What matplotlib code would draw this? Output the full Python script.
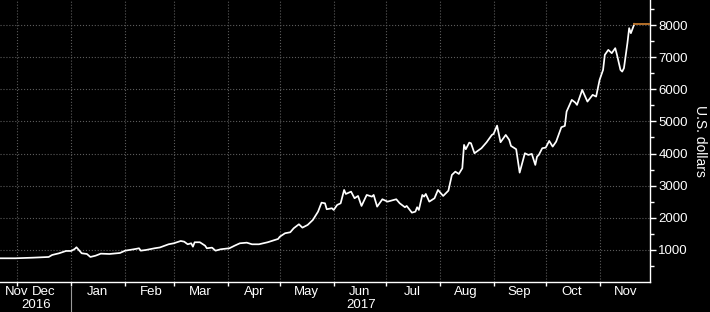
import matplotlib
matplotlib.use("Agg")
import matplotlib.pyplot as plt
import matplotlib.transforms as mtransforms
import pandas as pd

# bitcoin price
dates = [
    "2016-11-21", "2016-11-30", "2016-12-10", "2016-12-19", "2016-12-21", "2016-12-25", "2016-12-29",
    "2017-01-01", "2017-01-03", "2017-01-04", "2017-01-07", "2017-01-10", "2017-01-12", "2017-01-15",
    "2017-01-18", "2017-01-23", "2017-01-29", "2017-02-01", "2017-02-07", "2017-02-09", "2017-02-10",
    "2017-02-13", "2017-02-18", "2017-02-21", "2017-02-26", "2017-03-01", "2017-03-05", "2017-03-07",
    "2017-03-09", "2017-03-11", "2017-03-12", "2017-03-13", "2017-03-16", "2017-03-19", "2017-03-20",
    "2017-03-23", "2017-03-25", "2017-03-28", "2017-04-02", "2017-04-05", "2017-04-08", "2017-04-12",
    "2017-04-15", "2017-04-19", "2017-04-24", "2017-04-28", "2017-04-30", "2017-05-01", "2017-05-04",
    "2017-05-07", "2017-05-09", "2017-05-12", "2017-05-14", "2017-05-17", "2017-05-20", "2017-05-23",
    "2017-05-25", "2017-05-27", "2017-05-28", "2017-05-31", "2017-06-01", "2017-06-03", "2017-06-05",
    "2017-06-07", "2017-06-08", "2017-06-11", "2017-06-13", "2017-06-15", "2017-06-17", "2017-06-20",
    "2017-06-23", "2017-06-24", "2017-06-26", "2017-06-29", "2017-07-02", "2017-07-07", "2017-07-09",
    "2017-07-12", "2017-07-13", "2017-07-16", "2017-07-18", "2017-07-19", "2017-07-20", "2017-07-22",
    "2017-07-23", "2017-07-24", "2017-07-26", "2017-07-29", "2017-07-31", "2017-08-03", "2017-08-06",
    "2017-08-08", "2017-08-10", "2017-08-12", "2017-08-14", "2017-08-15", "2017-08-16", "2017-08-18",
    "2017-08-19", "2017-08-21", "2017-08-25", "2017-08-28", "2017-08-31", "2017-09-01", "2017-09-03",
    "2017-09-05", "2017-09-08", "2017-09-10", "2017-09-11", "2017-09-14", "2017-09-16", "2017-09-19",
    "2017-09-21", "2017-09-23", "2017-09-25", "2017-09-26", "2017-09-27", "2017-09-29", "2017-10-01",
    "2017-10-03", "2017-10-05", "2017-10-07", "2017-10-10", "2017-10-12", "2017-10-13", "2017-10-16",
    "2017-10-18", "2017-10-19", "2017-10-22", "2017-10-25", "2017-10-28", "2017-10-30", "2017-10-31",
    "2017-11-01", "2017-11-03", "2017-11-04", "2017-11-06", "2017-11-08", "2017-11-10", "2017-11-11",
    "2017-11-13", "2017-11-14", "2017-11-15", "2017-11-17", "2017-11-18", "2017-11-19", "2017-11-21",
]
prices = [
    738, 738, 757, 779, 841, 894, 966,
    966, 1028, 1081, 894, 872, 779, 819,
    882, 872, 903, 975, 1028, 1050, 975,
    997, 1050, 1075, 1174, 1205, 1277, 1255,
    1174, 1205, 1100, 1237, 1237, 1131, 1050,
    1069, 975, 1019, 1050, 1131, 1205, 1224,
    1174, 1174, 1237, 1308, 1340, 1411, 1517,
    1548, 1673, 1797, 1692, 1776, 1931, 2190,
    2470, 2450, 2265, 2296, 2243, 2399, 2450,
    2866, 2741, 2813, 2607, 2679, 2368, 2710,
    2658, 2710, 2346, 2576, 2502, 2576, 2450,
    2327, 2368, 2159, 2190, 2327, 2243, 2710,
    2658, 2741, 2502, 2607, 2866, 2679, 2844,
    3333, 3436, 3364, 3542, 4268, 4134, 4340,
    4320, 4009, 4165, 4352, 4579, 4611, 4869,
    4352, 4579, 4424, 4237, 4134, 3405, 4009,
    3956, 3988, 3645, 3903, 3956, 4165, 4184,
    4393, 4215, 4371, 4819, 4860, 5305, 5670,
    5586, 5514, 5981, 5617, 5826, 5773, 6034,
    6293, 6604, 7072, 7227, 7124, 7280, 7072,
    6604, 6551, 6657, 7436, 7903, 7747, 8037,
]

month_labels = ["Nov", "Dec", "Jan", "Feb", "Mar", "Apr", "May", "Jun", "Jul", "Aug", "Sep", "Oct", "Nov"]
month_starts = pd.date_range("2016-11-01", "2017-11-01", freq="MS")
year_labels = ["2016", "2017"]

x = pd.to_datetime(dates)
x_start = pd.Timestamp("2016-11-21")
x_end = pd.Timestamp("2017-11-30")

plt.rcParams["font.family"] = ["Liberation Sans", "DejaVu Sans"]

fig = plt.figure(figsize=(7.1, 3.12), dpi=100, facecolor="black")
ax = fig.add_axes([0.0, 0.0962, 0.9155, 0.9038], facecolor="black")

ax.plot(x, prices, color="white", linewidth=1.25, zorder=3)
# last price marker running to the right edge
ax.plot([x[-1], x_end], [prices[-1], prices[-1]], color="#b5702a", linewidth=1.4, zorder=3)

ax.set_xlim(x_start, x_end)
ax.set_ylim(0, 8780)

# y axis on the right
ax.yaxis.tick_right()
ax.yaxis.set_label_position("right")
ax.set_yticks(range(1000, 9000, 1000))
ax.set_yticks(range(500, 8800, 1000), minor=True)
ax.tick_params(axis="y", which="major", colors="white", labelsize=9.5, length=4, width=1, pad=2)
ax.tick_params(axis="y", which="minor", colors="white", length=3, width=1)
ax.set_ylabel("U.S. dollars", color="white", fontsize=10, rotation=270, labelpad=14)

# month boundaries as ticks, labels placed mid-month
ax.set_xticks(month_starts[1:])
ax.set_xticklabels([])
ax.tick_params(axis="x", which="major", colors="white", length=3, width=1)

trans = mtransforms.blended_transform_factory(ax.transData, ax.transAxes)
for start, label in zip(month_starts, month_labels):
    mid = start + pd.Timedelta(days=15)
    if mid < x_start:
        ax.text(x_start + pd.Timedelta(days=3), -0.035, label, transform=trans, color="white",
                fontsize=9.5, ha="left", va="center", clip_on=False)
    else:
        ax.text(mid, -0.035, label, transform=trans, color="white",
                fontsize=9.5, ha="center", va="center", clip_on=False)

year_split = pd.Timestamp("2017-01-01")
ax.text(x_start + (year_split - x_start) / 2, -0.083, year_labels[0], transform=trans,
        color="white", fontsize=9.5, ha="center", va="center", clip_on=False)
ax.text(year_split + (x_end - year_split) / 2, -0.083, year_labels[1], transform=trans,
        color="white", fontsize=9.5, ha="center", va="center", clip_on=False)
ax.plot([year_split, year_split], [-0.018, -0.11], transform=trans, color="#999999",
        linewidth=0.8, clip_on=False)

for side in ["top", "left"]:
    ax.spines[side].set_visible(False)
for side in ["bottom", "right"]:
    ax.spines[side].set_color("white")
    ax.spines[side].set_linewidth(1)

ax.grid(True, color="#5c5c5c", linestyle=":", linewidth=0.8)
ax.set_axisbelow(True)

fig.savefig("out.png", dpi=100, facecolor="black")
